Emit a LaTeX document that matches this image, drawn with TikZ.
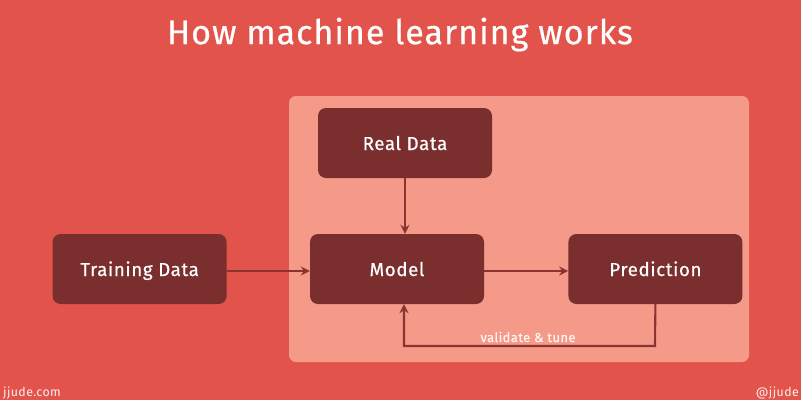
\documentclass[tikz,border=0pt]{standalone}
\usepackage{fontspec}
\setmainfont{Fira Sans}[LetterSpace=3]
\usetikzlibrary{arrows.meta, positioning, backgrounds}

\definecolor{bgred}{HTML}{E2544B}
\definecolor{panelpink}{HTML}{F59A88}
\definecolor{boxbrown}{HTML}{7A2E2D}
\definecolor{linebrown}{HTML}{8A3432}

\tikzset{
    blockbox/.style={draw=none, fill=boxbrown, rounded corners=8pt, minimum width=174pt, minimum height=70pt,
        text=white, font=\fontsize{18.8}{22}\selectfont\addfontfeature{FakeBold=0.5}, inner sep=0pt, text height=15pt, text depth=1pt},
    flowline/.style={draw=linebrown, line width=2.1pt, ->},
    corner/.style={text=white!90!bgred, font=\fontsize{12.4}{14}\selectfont, inner sep=0pt},
}

\begin{document}
\begin{tikzpicture}[>={Stealth[inset=3pt, length=9pt, width=9pt]}, x=1pt, y=-1pt]

\path [use as bounding box, fill=bgred] (0,0) rectangle (801,400);

\node [inner sep=0pt, text=white, font=\fontsize{34}{40}\selectfont\addfontfeature{FakeBold=0.5}] (title) at (400,34.5) {How machine learning works};

\node [draw=none, fill=panelpink, rounded corners=7pt, minimum width=460pt, minimum height=266pt, inner sep=0pt] (panel) at (519,229) {};

\node [blockbox] (real) at (405,143) {Real Data};
\node [blockbox] (model) at (397,269) {Model};
\node [blockbox, left=83pt of model] (train) {Training Data};
\node [blockbox, right=84pt of model] (pred) {Prediction};

\coordinate (turn) at (655,346);

\draw [flowline] (real.south) -- (real.south |- model.north);
\draw [flowline] ([yshift=-2pt]train.east) -- ([yshift=-2pt]model.west);
\draw [flowline] ([yshift=-2pt]model.east) -- ([yshift=-2pt]pred.west);
\draw [flowline, rounded corners=0pt] (pred.south) -- (turn) -| ([xshift=7pt]model.south);

\node [inner sep=0pt, text=white!90!panelpink, font=\fontsize{13}{15}\selectfont\addfontfeature{FakeBold=0.3}] (tune) at (528,337) {validate \& tune};

\node [corner, anchor=west] (site) at (3,393) {jjude.com};
\node [corner, anchor=east] (handle) at (799,393) {@jjude};

\end{tikzpicture}
\end{document}
